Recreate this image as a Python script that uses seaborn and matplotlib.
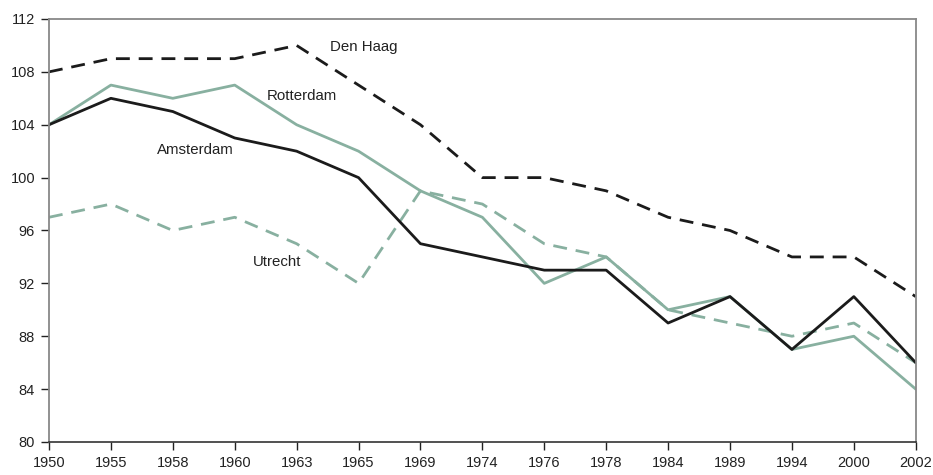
import seaborn as sns
import matplotlib.pyplot as plt
import pandas as pd

years = ["1950", "1955", "1958", "1960", "1963", "1965", "1969", "1974",
         "1976", "1978", "1984", "1989", "1994", "2000", "2002"]
den_haag = [108, 109, 109, 109, 110, 107, 104, 100, 100, 99, 97, 96, 94, 94, 91]
rotterdam = [104, 107, 106, 107, 104, 102, 99, 97, 92, 94, 90, 91, 87, 88, 84]
amsterdam = [104, 106, 105, 103, 102, 100, 95, 94, 93, 93, 89, 91, 87, 91, 86]
utrecht = [97, 98, 96, 97, 95, 92, 99, 98, 95, 94, 90, 89, 88, 89, 86]

green = "#88b0a0"
dark = "#1b1b1b"

sns.set_style("ticks")
plt.rcParams['font.family'] = ['Liberation Sans', 'DejaVu Sans']

fig = plt.figure(figsize=(9.33, 4.75), dpi=100)
ax = fig.add_axes([0.0525, 0.0695, 0.929, 0.8905])

idx = list(range(len(years)))
series = [
    (utrecht, green, (5, 3.2)),
    (rotterdam, green, None),
    (den_haag, dark, (5, 3.2)),
    (amsterdam, dark, None),
]
for vals, col, dash in series:
    df = pd.DataFrame({"x": idx, "y": vals})
    sns.lineplot(data=df, x="x", y="y", color=col, linewidth=2, ax=ax)
    if dash:
        ax.lines[-1].set_dashes(dash)

labels = [("Den Haag", 4.54, 109.9), ("Rotterdam", 3.52, 106.2),
          ("Amsterdam", 1.75, 102.1), ("Utrecht", 3.3, 93.6)]
for txt, x, y in labels:
    ax.text(x, y, txt, fontsize=10.8, color="#222222", va="center", ha="left")

ax.set_xlim(0, len(years) - 1)
ax.set_ylim(80, 112)
ax.set_xticks(idx)
ax.set_xticklabels(years)
ax.set_yticks(range(80, 113, 4))
ax.set_xlabel("")
ax.set_ylabel("")
ax.tick_params(axis="both", labelsize=10.5, colors="#222222", length=6, width=1, pad=4)
for s in ["top", "right", "left"]:
    ax.spines[s].set_color("#888888")
    ax.spines[s].set_linewidth(1.3)
ax.spines["bottom"].set_color("#333333")
ax.spines["bottom"].set_linewidth(1.2)
ax.spines["top"].set_visible(True)
ax.spines["right"].set_visible(True)

fig.savefig("out.png", dpi=100)
